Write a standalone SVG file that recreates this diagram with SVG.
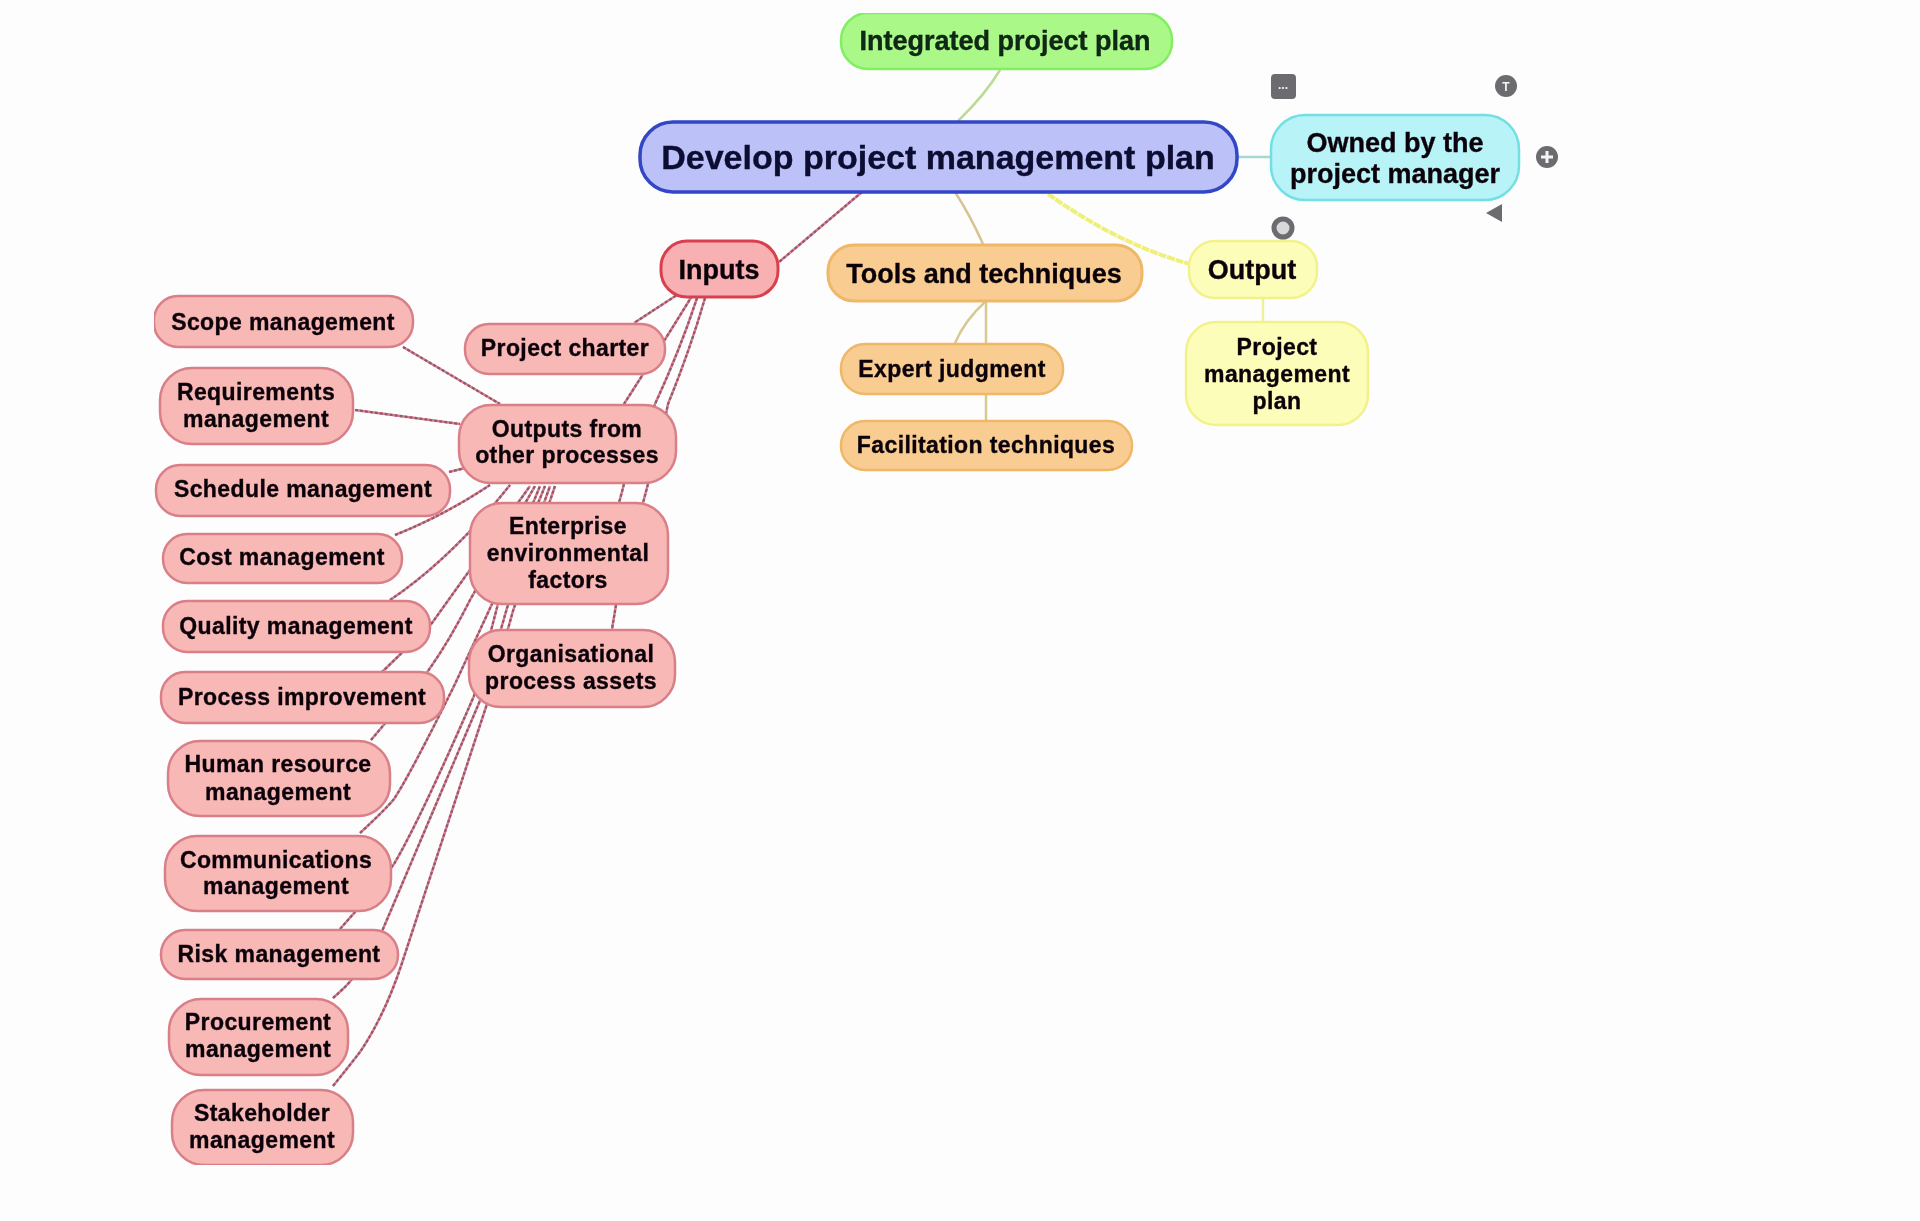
<svg xmlns="http://www.w3.org/2000/svg" width="1920" height="1221" viewBox="0 0 1920 1221">
<style>
text{font-family:"Liberation Sans",Arial,sans-serif;font-weight:700;text-anchor:middle;fill:#0c0608;stroke:#0c0608;stroke-width:.35px}
rect{stroke-width:2.5}
.r{fill:#f8b8b6;stroke:#d97f88}
.rm{fill:#f8b0b2;stroke:#d8404f;stroke-width:3}
.o{fill:#f9cd92;stroke:#eeb868}
.y{fill:#fdfdba;stroke:#f2f28a}
.s22{font-size:23px;letter-spacing:.4px}.s27{font-size:27px}
.l{fill:none;stroke-width:2.5;stroke-linejoin:round}
.p{stroke:#e8788e}
.d{fill:none;stroke:#85606c;stroke-width:2.2;stroke-dasharray:3 2}
.ic{fill:#6c6c70}
.it{fill:#f4f4f4;stroke:none;font-size:12px}
</style>
<filter id="soft" x="0" y="0" width="100%" height="100%"><feGaussianBlur stdDeviation="0.65"/></filter>
<rect width="1920" height="1221" fill="#fefdfe" style="stroke:none"/>
<g filter="url(#soft)">
<g id="connectors">
<path class="l" stroke="#b9dc92" d="M1000 70 Q985 95 958 121"/>
<path class="l" stroke="#a9d8d2" d="M1237 157H1270"/>
<path class="l" stroke="#d8c490" d="M955 192Q970 215 983 244"/>
<path class="l" stroke="#eef07a" style="stroke-width:4;stroke-dasharray:8 1" d="M1048 194Q1120 245 1190 264"/>
<path class="l" stroke="#d9c890" d="M985 302Q965 320 955 343"/>
<path class="l" stroke="#d9c890" d="M986 302V420"/>
<path class="l" stroke="#eef09a" d="M1263 299V321"/>
<g id="connector-base">
<path class="l p" d="M862 192L779 262"/>
<path class="l p" d="M680 293L634 323"/>
<path class="l p" d="M692 296Q665 340 624 404"/>
<path class="l p" d="M697 298Q680 350 655 404L624 484L619 503"/>
<path class="l p" d="M705 298Q690 350 668 404Q660 445 648 484L616 605L612 629"/>
<path class="l p" d="M403 347L500 404"/>
<path class="l p" d="M355 410L460 424"/>
<path class="l p" d="M449 472L465 468"/>
<path class="l p" d="M395 535Q445 515 490 485"/>
<path class="l p" d="M390 600Q450 560 510 485"/>
<path class="l p" d="M381 673Q410 645 432 623L530 486"/>
<path class="l p" d="M371 740Q405 700 428 671Q450 640 470 600L535 486"/>
<path class="l p" d="M360 833Q385 810 394 799Q410 775 455 684L492 604L540 486"/>
<path class="l p" d="M340 929Q375 890 394 864Q420 820 474 696L499 600L545 486"/>
<path class="l p" d="M333 998Q348 985 352 979Q370 955 383 929L482 696L507 608L550 486"/>
<path class="l p" d="M333 1086Q350 1065 360 1052Q385 1015 402 963L486 707L513 611L555 486"/>
</g>
<g id="connector-dashes">
<path class="d" d="M862 192L779 262"/>
<path class="d" d="M680 293L634 323"/>
<path class="d" d="M692 296Q665 340 624 404"/>
<path class="d" d="M697 298Q680 350 655 404L624 484L619 503"/>
<path class="d" d="M705 298Q690 350 668 404Q660 445 648 484L616 605L612 629"/>
<path class="d" d="M403 347L500 404"/>
<path class="d" d="M355 410L460 424"/>
<path class="d" d="M449 472L465 468"/>
<path class="d" d="M395 535Q445 515 490 485"/>
<path class="d" d="M390 600Q450 560 510 485"/>
<path class="d" d="M381 673Q410 645 432 623L530 486"/>
<path class="d" d="M371 740Q405 700 428 671Q450 640 470 600L535 486"/>
<path class="d" d="M360 833Q385 810 394 799Q410 775 455 684L492 604L540 486"/>
<path class="d" d="M340 929Q375 890 394 864Q420 820 474 696L499 600L545 486"/>
<path class="d" d="M333 998Q348 985 352 979Q370 955 383 929L482 696L507 608L550 486"/>
<path class="d" d="M333 1086Q350 1065 360 1052Q385 1015 402 963L486 707L513 611L555 486"/>
</g>
</g>
<g id="n-integrated"><rect x="841" y="13" width="331" height="56" rx="27" fill="#a9f888" stroke="#82ee62"/><text class="s27" x="1005" y="50" style="fill:#0c2a14">Integrated project plan</text></g>
<g id="n-develop"><rect x="640" y="122" width="597" height="70" rx="33" fill="#bcc1f8" stroke="#3346c6" style="stroke-width:3.5"/><text x="938" y="169" style="font-size:34px;fill:#0a0a30;stroke:#0a0a30">Develop project management plan</text></g>
<g id="n-owned"><rect x="1271" y="115" width="248" height="85" rx="34" fill="#b8f3f8" stroke="#72e0e2"/><text class="s27" x="1395" y="152">Owned by the</text><text class="s27" x="1395" y="183">project manager</text></g>
<g id="n-inputs"><rect class="rm" x="661" y="241" width="117" height="56" rx="26"/><text class="s27" x="719" y="279">Inputs</text></g>
<g id="n-tools"><rect class="o" x="828" y="245" width="314" height="56" rx="26" style="stroke-width:3"/><text class="s27" x="984" y="283">Tools and techniques</text></g>
<g id="n-output"><rect class="y" x="1189" y="241" width="128" height="57" rx="26"/><text class="s27" x="1252" y="279">Output</text></g>
<g id="n-expert"><rect class="o" x="841" y="344" width="222" height="50" rx="24"/><text class="s22" x="952" y="377">Expert judgment</text></g>
<g id="n-facil"><rect class="o" x="841" y="421" width="291" height="49" rx="24"/><text class="s22" x="986" y="453">Facilitation techniques</text></g>
<g id="n-pmp"><rect class="y" x="1186" y="322" width="182" height="103" rx="30"/><text class="s22" x="1277" y="355">Project</text><text class="s22" x="1277" y="382">management</text><text class="s22" x="1277" y="409">plan</text></g>
<g id="n-charter"><rect class="r" x="465" y="324" width="200" height="50" rx="24"/><text class="s22" x="565" y="356">Project charter</text></g>
<g id="n-outputs"><rect class="r" x="459" y="405" width="217" height="78" rx="32"/><text class="s22" x="567" y="437">Outputs from</text><text class="s22" x="567" y="463">other processes</text></g>
<g id="n-enterprise"><rect class="r" x="470" y="503" width="198" height="101" rx="32"/><text class="s22" x="568" y="534">Enterprise</text><text class="s22" x="568" y="561">environmental</text><text class="s22" x="568" y="588">factors</text></g>
<g id="n-org"><rect class="r" x="469" y="630" width="206" height="77" rx="32"/><text class="s22" x="571" y="662">Organisational</text><text class="s22" x="571" y="689">process assets</text></g>
<g id="n-scope"><rect class="r" x="154" y="296" width="259" height="51" rx="24"/><text class="s22" x="283" y="330">Scope management</text></g>
<g id="n-req"><rect class="r" x="160" y="368" width="193" height="76" rx="32"/><text class="s22" x="256" y="400">Requirements</text><text class="s22" x="256" y="427">management</text></g>
<g id="n-schedule"><rect class="r" x="156" y="465" width="294" height="51" rx="24"/><text class="s22" x="303" y="497">Schedule management</text></g>
<g id="n-cost"><rect class="r" x="163" y="534" width="239" height="49" rx="24"/><text class="s22" x="282" y="565">Cost management</text></g>
<g id="n-quality"><rect class="r" x="163" y="601" width="267" height="51" rx="24"/><text class="s22" x="296" y="634">Quality management</text></g>
<g id="n-process"><rect class="r" x="161" y="672" width="283" height="51" rx="24"/><text class="s22" x="302" y="705">Process improvement</text></g>
<g id="n-human"><rect class="r" x="168" y="741" width="222" height="75" rx="32"/><text class="s22" x="278" y="772">Human resource</text><text class="s22" x="278" y="800">management</text></g>
<g id="n-comm"><rect class="r" x="165" y="836" width="226" height="75" rx="32"/><text class="s22" x="276" y="868">Communications</text><text class="s22" x="276" y="894">management</text></g>
<g id="n-risk"><rect class="r" x="161" y="930" width="237" height="49" rx="24"/><text class="s22" x="279" y="962">Risk management</text></g>
<g id="n-procurement"><rect class="r" x="169" y="999" width="179" height="76" rx="32"/><text class="s22" x="258" y="1030">Procurement</text><text class="s22" x="258" y="1057">management</text></g>
<g id="n-stakeholder"><rect class="r" x="172" y="1090" width="181" height="75" rx="32"/><text class="s22" x="262" y="1121">Stakeholder</text><text class="s22" x="262" y="1148">management</text></g>
<g id="icons">
<rect class="ic" x="1271" y="74" width="25" height="25" rx="4" style="stroke:none"/><text class="it" x="1283" y="89">...</text>
<circle class="ic" cx="1506" cy="86" r="11"/><text class="it" x="1506" y="91">T</text>
<circle class="ic" cx="1547" cy="157" r="11"/><path d="M1541 157H1553M1547 151V163" stroke="#f4f4f4" stroke-width="3"/>
<path class="ic" d="M1502 204V222L1486 213Z"/>
<circle cx="1283" cy="228" r="9" fill="#d8d8d8" stroke="#6c6c70" stroke-width="5"/>
</g>
</g>
</svg>
